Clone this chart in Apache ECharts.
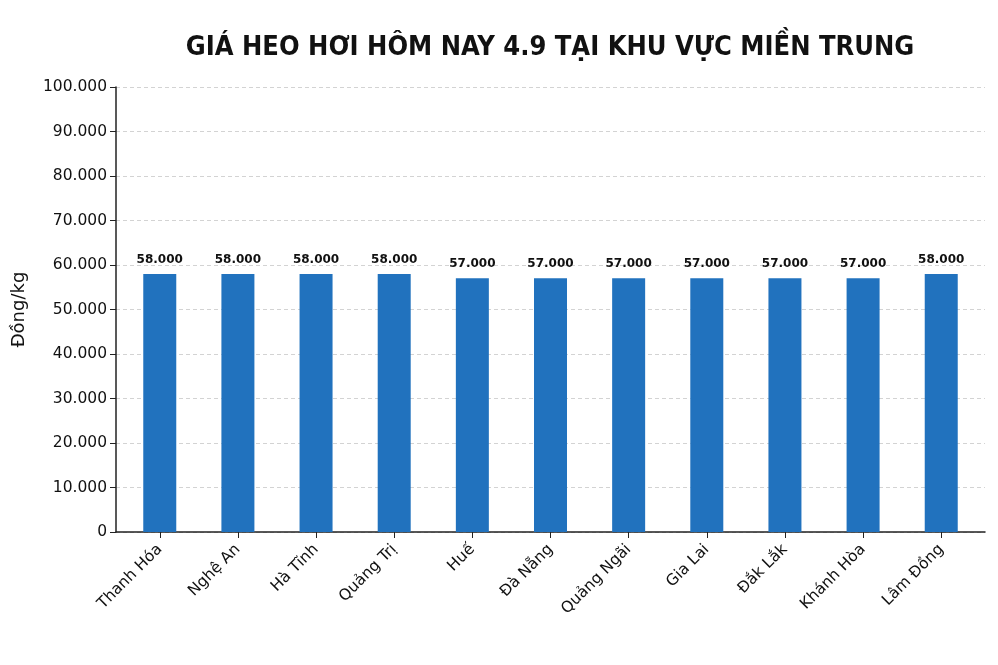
<!DOCTYPE html>
<html>
<head>
<meta charset="utf-8">
<script src="https://cdn.jsdelivr.net/npm/echarts@6/dist/echarts.min.js"></script>
<style>
  html, body { margin: 0; padding: 0; background: #fff; }
  #chart { width: 998px; height: 665px; }
</style>
</head>
<body>
<div id="chart"></div>
<script>
var provinces = ["Thanh Hóa", "Nghệ An", "Hà Tĩnh", "Quảng Trị", "Huế", "Đà Nẵng", "Quảng Ngãi", "Gia Lai", "Đắk Lắk", "Khánh Hòa", "Lâm Đồng"];
var prices = [58000, 58000, 58000, 58000, 57000, 57000, 57000, 57000, 57000, 57000, 58000];
var yTicks = [0, 10000, 20000, 30000, 40000, 50000, 60000, 70000, 80000, 90000, 100000];

// số kiểu Việt: 58.000
function fmt(v) {
    return String(v).replace(/\B(?=(\d{3})+(?!\d))/g, ".");
}

// vị trí cột theo chỉ số tỉnh
var idx = provinces.map(function(p, i) { return i; });
var barData = prices.map(function(v, i) { return [i, v]; });

var chart = echarts.init(document.getElementById("chart"));
window.addEventListener("resize", chart.resize);

var option = {
    animation: false,
    textStyle: { fontFamily: "DejaVu Sans" },
    title: {
        text: "GIÁ HEO HƠI HÔM NAY 4.9 TẠI KHU VỰC MIỀN TRUNG",
        left: 545,
        top: 29,
        textAlign: "center",
        textStyle: {
            fontFamily: "DejaVu Sans Condensed",
            fontWeight: "bold",
            fontSize: 27,
            color: "#111"
        }
    },
    grid: {
        left: 116,
        right: 13,
        top: 87,
        bottom: 133,
        containLabel: false
    },
    xAxis: {
        type: "value",
        min: -0.56,
        max: provinces.length - 1 + 0.56,
        splitLine: { show: false },
        axisLine: { show: true, onZero: false, lineStyle: { color: "#222", width: 1.5 } },
        axisTick: { show: true, customValues: idx, length: 6, lineStyle: { color: "#222" } },
        axisLabel: {
            customValues: idx,
            rotate: 45,
            fontSize: 15.5,
            color: "#111",
            margin: 15,
            formatter: function(v) { return provinces[Math.round(v)]; }
        }
    },
    yAxis: {
        type: "value",
        min: yTicks[0],
        max: yTicks[yTicks.length - 1],
        interval: yTicks[1] - yTicks[0],
        name: "Đồng/kg",
        nameLocation: "middle",
        nameGap: 88,
        nameRotate: 90,
        nameTextStyle: { fontSize: 18, color: "#111" },
        axisLine: { show: true, onZero: false, lineStyle: { color: "#222", width: 1.5 } },
        axisTick: { show: true, length: 6, lineStyle: { color: "#222" } },
        axisLabel: {
            fontSize: 15.5,
            color: "#111",
            margin: 9,
            formatter: function(v) { return fmt(v); }
        },
        splitLine: {
            show: true,
            lineStyle: { color: "#c8c8c8", type: [4, 3], width: 0.8 }
        }
    },
    series: [{
        type: "bar",
        data: barData,
        barWidth: 33,
        itemStyle: { color: "#2172be" },
        label: {
            show: true,
            position: "top",
            distance: 8,
            fontSize: 12,
            fontWeight: "bold",
            color: "#111",
            formatter: function(p) { return fmt(p.value[1]); }
        }
    }]
};
chart.setOption(option);
</script>
</body>
</html>
